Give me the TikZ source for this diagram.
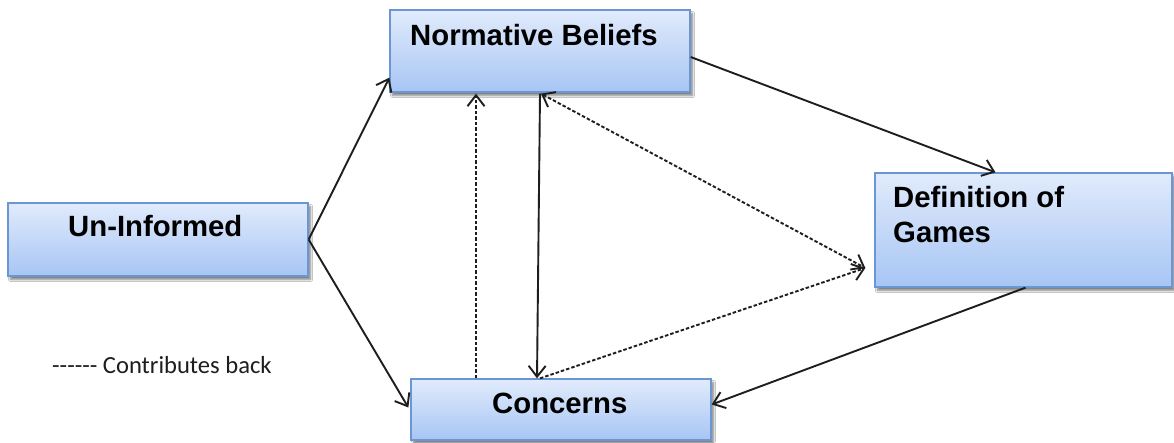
\documentclass[tikz,border=0pt]{standalone}
\usepackage{fontspec}
\setmainfont{Liberation Sans}
\newfontfamily\legendfont{Carlito}
\usetikzlibrary{arrows.meta,calc,shadows.blur}
\definecolor{boxtop}{HTML}{E1EBFC}
\definecolor{boxbot}{HTML}{A7C5F4}
\definecolor{boxline}{HTML}{6A97D4}
\definecolor{ink}{HTML}{1E1E1E}
\tikzset{
  barb/.tip={Straight Barb[length=11pt,width=17pt,line width=1.9pt]},
  box/.style={draw=boxline, line width=1.3pt, top color=boxtop, bottom color=boxbot,
    rectangle, inner sep=0pt,
    blur shadow={shadow xshift=2.5pt, shadow yshift=-3.5pt, shadow blur steps=6, shadow opacity=50}},
  boxtext/.style={font=\fontsize{29.3}{35}\selectfont\bfseries, text=black, inner sep=0pt, anchor=base west},
  link/.style={draw=ink, line width=1.9pt, -barb},
  backlink/.style={link, dash pattern=on 3.5pt off 2pt},
}
\begin{document}
\begin{tikzpicture}[x=1pt,y=-1pt]
  \useasboundingbox (0,0) rectangle (1174,442);
  \fill[white] (0,0) rectangle (1174,442);

  % boxes
  \node[box, minimum width=300pt, minimum height=82pt]  (nb) at (540,51)     {};
  \node[box, minimum width=300pt, minimum height=73pt]  (ui) at (158,239.5)  {};
  \node[box, minimum width=297pt, minimum height=114pt] (dg) at (1023.5,230) {};
  \node[box, minimum width=300pt, minimum height=61pt]  (cn) at (561,409.5)  {};

  % box captions
  \node[boxtext] (nbt) at (410,45)  {Normative Beliefs};
  \node[boxtext] (uit) at (68,236)  {Un-Informed};
  \node[boxtext] (dgt1) at (893,207) {Definition of};
  \node[boxtext] (dgt2) at (893,242) {Games};
  \node[boxtext] (cnt) at (492,413) {Concerns};

  % legend
  \node[inner sep=0pt, anchor=base west, font=\legendfont\fontsize{24.6}{28}\selectfont, text=ink]
    (legend) at (52,373) {------ Contributes back};

  % forward links
  \draw[link] (ui.east) -- ($(nb.south west)+(0,-15)$);
  \draw[link] (ui.east) -- ($(cn.west)+(-2,-2)$);
  \draw[link] ($(nb.east)+(0,6)$) -- ($(dg.north)+(-28,0)$);
  \draw[link] ($(dg.south)+(2,0)$) -- ($(cn.east)+(0,-5)$);
  \draw[link] ($(nb.south)+(0,1)$) -- ($(cn.north)+(-24,0)$);

  % feedback links
  \draw[backlink] ($(cn.north)+(-85,0)$) -- ($(nb.south)+(-64,1)$);
  \draw[backlink, barb-barb] ($(nb.south)+(1,1)$) -- ($(dg.west)+(-9,38)$);
  \draw[backlink] ($(cn.north)+(-21,0)$) -- ($(dg.west)+(-9,38)$);
\end{tikzpicture}
\end{document}
